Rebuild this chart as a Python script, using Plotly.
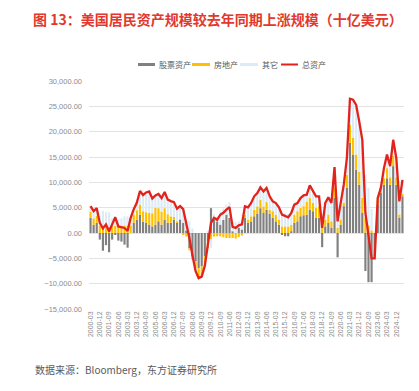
import plotly.graph_objects as go

# Quarter labels 2000-03 .. 2025-06
quarters = [f"{y}-{m:02d}" for y in range(2000, 2026) for m in (3, 6, 9, 12)][:102]

stock = [3000, 1600, 2000, -1300, -3500, -2400, -3800, -1300, -300, -1500,
         -1700, -2300, -2900, 0, 2000, 2600, 3600, 2200, 2000, 1650,
         1300, 1650, 2300, 1650, 2600, 2000, 2000, 2600, 2000, 2600,
         2000, 500, -3000, -4600, -5600, -6900, -6600, -4600, -1700, 4900,
         2600, 2300, 1650, 2600, 3600, 3000, 300, 0, 1000, 700,
         3000, 2000, 2300, 3300, 3750, 4900, 3950, 4600, 3750, 3000,
         2300, 1650, -300, -650, -650, 300, 2000, 2300, 3300, 3500,
         3600, 4600, 4300, 3000, 3000, -2800, 1300, 2000, 1000, 6900,
         -4800, 1650, 5300, 8900, 17800, 15500, 12500, 9500, 3950, -7500,
         -9700, -9700, -4600, 5600, 7900, 9500, 10800, 9500, 13200, 9500,
         2960, 7250]

real_estate = [1200, 1300, 1400, 1500, 1300, 1400, 1200, 1300, 1400, 1300,
               1400, 1500, 1500, 1500, 1650, 1900, 2000, 2100, 2100, 2300,
               2600, 3300, 2600, 2600, 2300, 1700, 1300, 600, 300, 100,
               -300, -700, -400, -700, -1300, -2000, -1700, -1300, -1300, -1200,
               -700, -650, -650, -850, -1000, -1000, -1000, -1100, -800, -500,
               660, 600, 1000, 1300, 1500, 1650, 1300, 1500, 850, 1300,
               1300, 1000, 1300, 1300, 1300, 1300, 1650, 2000, 1650, 1800,
               2600, 2300, 1650, 2000, 2300, 1000, 1300, 1650, 1300, 2000,
               1000, 1000, 700, 2600, 3600, 3300, 3000, 2600, 3000, 3000,
               1500, 500, -400, 1000, 1000, 1300, 2000, 1500, 2000, 1500,
               700, 500]

other = [1100, 1400, 1500, 1800, 3100, 2700, 2900, 1600, 2000, 1500,
         1500, 1800, 1800, 1500, 1050, 1500, 2700, 3200, 3900, 4250,
         2900, 2450, 2800, 2650, 3200, 2900, 3000, 2900, 2500, 2600,
         3000, 2200, 2400, 900, -600, 0, -300, -600, 400, -1700,
         1100, 950, 2600, 2250, 2000, 3100, 1900, 2100, 1300, 1500,
         1600, 2470, 2620, 2640, 2650, 2450, 2950, 2800, 2640, 1950,
         2320, 2420, 2620, 2640, 2440, 2350, 1950, 1620, 1950, 2140,
         1370, 2500, 2250, 2240, 1940, 2790, 3320, 3390, 3620, 4100,
         6100, 2950, 3540, 3300, 5100, 7500, 9800, 9900, 11450, 8500,
         7400, 4200, 0, 300, 0, 2000, 2700, 2200, 3200, 3800,
         2590, 2750]

total = [5300, 4300, 4900, 2000, 900, 1700, 300, 1600, 3100, 1300,
         1200, 1000, 400, 3000, 4700, 6000, 8300, 7500, 8000, 8200,
         6800, 7400, 7700, 6900, 8100, 6600, 6300, 6100, 4800, 5300,
         4700, 2000, -1000, -4400, -7500, -8900, -8600, -6500, -2600, 2000,
         3000, 2600, 3600, 4000, 4600, 5100, 1200, 1000, 1500, 1700,
         5260, 5070, 5920, 7240, 7900, 9000, 8200, 8900, 7240, 6250,
         5920, 5070, 3620, 3290, 3090, 3950, 5600, 5920, 6900, 7440,
         7570, 9400, 8200, 7240, 7240, 990, 5920, 7040, 5920, 13000,
         2300, 5600, 9540, 14800, 26500, 26300, 25300, 22000, 18400, 4000,
         -800, -5000, -5000, 6900, 8900, 12800, 15500, 13200, 18400, 14800,
         6250, 10500]

series_names = ["股票资产", "房地产", "其它", "总资产"]
colors = ["#808080", "#FFC000", "#DDEBF7", "#E3231B"]
y_ticks = list(range(-15000, 30001, 5000))
x_ticks = quarters[::3]

fig = go.Figure()
for name, vals, col in zip(series_names[:3], [stock, real_estate, other], colors[:3]):
    fig.add_trace(go.Bar(x=quarters, y=vals, name=name, marker_color=col,
                         marker_line_width=0, showlegend=False))
fig.add_trace(go.Scatter(x=quarters, y=total, name=series_names[3], mode="lines",
                         line=dict(color=colors[3], width=2.3), showlegend=False))

# Plot area in pixels: x 81..396, y 73..301
L, R, T, B = 81, 396, 73, 301
W, H = 419, 391
def px(x):
    return (x - L) / (R - L)
def py(y):
    return (B - y) / (B - T)

shapes = []
annotations = []
legend_items = [(130, 147, 149), (184, 202, 204), (232, 250, 252), (273, 290, 292)]
for (x0, x1, tx), name, col in zip(legend_items, series_names, colors):
    if name == "总资产":
        shapes.append(dict(type="line", xref="paper", yref="paper", x0=px(x0), x1=px(x1),
                           y0=py(56.5), y1=py(56.5), line=dict(color=col, width=2)))
    else:
        shapes.append(dict(type="rect", xref="paper", yref="paper", x0=px(x0), x1=px(x1),
                           y0=py(58), y1=py(55), fillcolor=col, line=dict(width=0)))
    annotations.append(dict(text=name, xref="paper", yref="paper", x=px(tx), y=py(56.5),
                            xanchor="left", yanchor="middle", showarrow=False,
                            font=dict(size=8, color="#595959", family="Noto Sans CJK SC")))

annotations.append(dict(text="数据来源：Bloomberg，东方证券研究所", xref="paper", yref="paper",
                        x=px(25), y=py(361), xanchor="left", yanchor="middle", showarrow=False,
                        font=dict(size=10, color="#595959", family="Noto Sans CJK SC")))

fig.update_layout(
    width=W, height=391, autosize=False,
    margin=dict(l=L, r=W - R, t=T, b=H - B, pad=0),
    barmode="relative", bargap=0.3,
    plot_bgcolor="white", paper_bgcolor="white",
    title=dict(text="图 13：美国居民资产规模较去年同期上涨规模（十亿美元）",
               xref="container", yref="container", x=25 / W, xanchor="left",
               y=1 - 12 / H, yanchor="middle",
               font=dict(size=14, color="#E2382D", family="Noto Sans CJK SC", weight="bold")),
    xaxis=dict(type="category", tickmode="array", tickvals=x_ticks, ticktext=x_ticks,
               tickangle=-90, tickfont=dict(size=7, color="#8C8C8C", family="Liberation Sans"),
               showgrid=False, showline=False, ticks="", range=[-0.5, len(quarters) - 0.5]),
    yaxis=dict(range=[-15000, 30000], tickmode="array", tickvals=y_ticks, tickformat=",.2f",
               gridcolor="#E3E3E3", gridwidth=1, zeroline=False, showline=False,
               tickfont=dict(size=7.5, color="#8C8C8C", family="Liberation Sans"),
               ticks="", ticklabelstandoff=6),
    shapes=shapes, annotations=annotations,
)

fig.write_html("out.html")
